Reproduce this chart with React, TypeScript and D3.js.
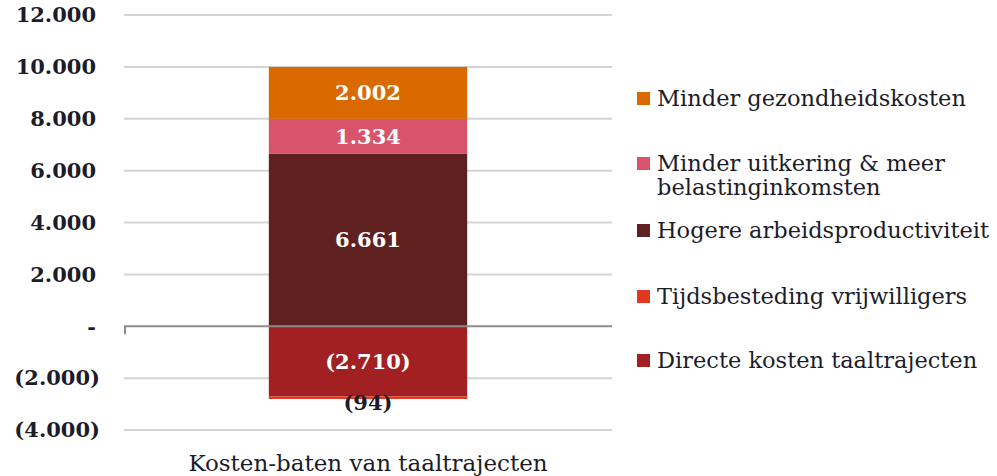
import React from "react";
import * as d3 from "d3";

const category = "Kosten-baten van taaltrajecten";
const seriesNames = [
  "Minder gezondheidskosten",
  "Minder uitkering & meer belastinginkomsten",
  "Hogere arbeidsproductiviteit",
  "Tijdsbesteding vrijwilligers",
  "Directe kosten taaltrajecten",
];
const seriesValues = [2002, 1334, 6661, -94, -2710];
const seriesColors = ["#da6a00", "#d9536b", "#5e2120", "#e2381f", "#a21f22"];
const valueLabels = ["2.002", "1.334", "6.661", "(94)", "(2.710)"];
const yTicks = [-4000, -2000, 0, 2000, 4000, 6000, 8000, 10000, 12000];
const legendLines = [
  ["Minder gezondheidskosten"],
  ["Minder uitkering & meer", "belastinginkomsten"],
  ["Hogere arbeidsproductiviteit"],
  ["Tijdsbesteding vrijwilligers"],
  ["Directe kosten taaltrajecten"],
];

const fmtTick = (v: number) => {
  if (v === 0) return "-";
  const s = d3.format(",")(Math.abs(v)).replace(/,/g, ".");
  return v < 0 ? `(${s})` : s;
};

export default function App() {
  const W = 997, H = 476;
  const left = 124, right = 612, top = 15, bottom = 430;
  const y = d3.scaleLinear().domain([-4000, 12000]).range([bottom, top]);
  const x = d3.scaleBand().domain([category]).range([left, right]).paddingInner(0).paddingOuter(0.73);
  const bw = x.bandwidth();
  const bx = x(category)!;

  const order = [2, 1, 0];
  const negOrder = [4, 3];
  const segs: { i: number; y0: number; y1: number }[] = [];
  let acc = 0;
  for (const i of order) { segs.push({ i, y0: acc, y1: acc + seriesValues[i] }); acc += seriesValues[i]; }
  acc = 0;
  for (const i of negOrder) { segs.push({ i, y0: acc, y1: acc + seriesValues[i] }); acc += seriesValues[i]; }

  const font = "'DejaVu Serif', serif";
  const legendY = [98, 163, 230, 296, 360];

  return (
    <svg width={W} height={H} style={{ position: "absolute", left: 0, top: 0, background: "#fff" }} fontFamily={font}>
      {yTicks.filter(t => t !== 0).map(t => (
        <line key={t} x1={left} x2={right} y1={y(t)} y2={y(t)} stroke="#d4d4d4" strokeWidth={2} />
      ))}
      {segs.map(s => (
        <rect key={s.i} x={bx} width={bw} y={y(Math.max(s.y0, s.y1))} height={Math.abs(y(s.y0) - y(s.y1))} fill={seriesColors[s.i]} />
      ))}
      <line x1={left} x2={right} y1={y(0)} y2={y(0)} stroke="#8c8c8c" strokeWidth={2} />
      <line x1={left + 1} x2={left + 1} y1={y(0)} y2={y(0) + 8} stroke="#8c8c8c" strokeWidth={2} />
      {yTicks.map(t => (
        <text key={t} x={t < 0 ? 100 : 96} y={y(t)} dy="0.35em" textAnchor="end" fontSize={21} fontWeight="bold" fill="#1c1c2a">{fmtTick(t)}</text>
      ))}
      {segs.map(s => {
        const isSmall = Math.abs(seriesValues[s.i]) < 500;
        const cy = isSmall ? y(s.y1) + 4 : (y(s.y0) + y(s.y1)) / 2;
        return (
          <text key={"l" + s.i} x={bx + bw / 2} y={cy} dy="0.35em" textAnchor="middle" fontSize={21} fontWeight="bold"
            fill={isSmall ? "#1c1c2a" : "#ffffff"}>{valueLabels[s.i]}</text>
        );
      })}
      <text x={bx + bw / 2} y={463} dy="0.35em" textAnchor="middle" fontSize={23} fill="#1c1c2a">{category}</text>
      {legendLines.map((lines, i) => (
        <g key={"lg" + i}>
          <rect x={637} y={legendY[i] - 6} width={13} height={13} fill={seriesColors[i]} />
          {lines.map((ln, j) => (
            <text key={j} x={657} y={legendY[i] + j * 24} dy="0.35em" fontSize={22.5} fill="#1c1c2a">{ln}</text>
          ))}
        </g>
      ))}
    </svg>
  );
}
